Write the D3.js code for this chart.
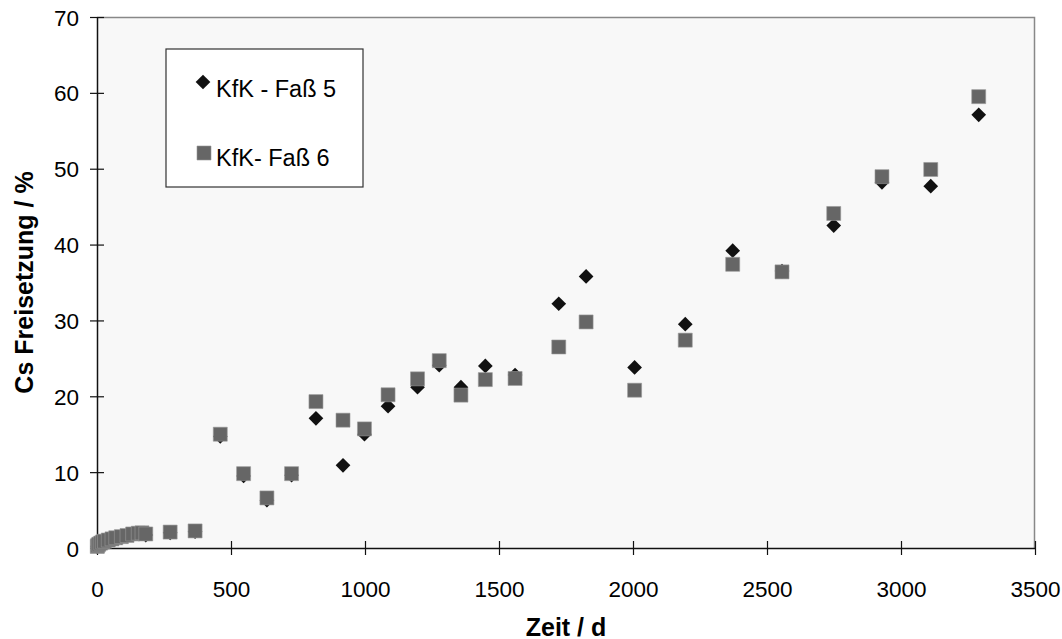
<!DOCTYPE html>
<html lang="de">
<head>
<meta charset="UTF-8">
<title>Cs Freisetzung</title>
<script src="https://d3js.org/d3.v7.min.js"></script>
<style>
  body { margin: 0; background: #fff; }
  text { font-family: Arial, "Liberation Sans", sans-serif; }
</style>
</head>
<body>
<svg width="1062" height="639" id="mainsvg"></svg>
<script>
const zeit = [1, 3, 7, 14, 21, 28, 42, 56, 70, 91, 112, 133, 154, 168, 182, 273, 366,
  460, 547, 634, 726, 817, 918, 998, 1086, 1196, 1277, 1358, 1449, 1560, 1723, 1825,
  2006, 2195, 2372, 2556, 2749, 2929, 3111, 3290];
const fass5 = [0.15, 0.3, 0.45, 0.6, 0.75, 0.85, 1.0, 1.1, 1.25, 1.4, 1.55, 1.75, 1.85, 1.9, 1.7, 2.0, 2.15,
  14.7, 9.5, 6.3, 9.6, 17.1, 10.9, 15.0, 18.7, 21.2, 24.1, 21.2, 24.0, 22.8, 32.2, 35.8,
  23.8, 29.5, 39.2, 36.5, 42.5, 48.2, 47.7, 57.1];
const fass6 = [0.2, 0.35, 0.5, 0.65, 0.8, 0.9, 1.05, 1.2, 1.35, 1.5, 1.65, 1.85, 1.95, 2.0, 1.85, 2.1, 2.25,
  15.0, 9.8, 6.6, 9.8, 19.3, 16.85, 15.7, 20.2, 22.3, 24.7, 20.15, 22.2, 22.35, 26.5, 29.8,
  20.8, 27.4, 37.4, 36.4, 44.1, 48.95, 49.9, 59.5];
const xTicks = [0, 500, 1000, 1500, 2000, 2500, 3000, 3500];
const yTicks = [0, 10, 20, 30, 40, 50, 60, 70];
const series = [
  {name: 'KfK - Faß 5', values: fass5},
  {name: 'KfK- Faß 6', values: fass6}
];

const svg = d3.select('#mainsvg');
const margin = {top: 17, right: 27, bottom: 91, left: 97};
const width = +svg.attr('width');
const height = +svg.attr('height');
const innerWidth = width - margin.left - margin.right;
const innerHeight = height - margin.top - margin.bottom;

const xScale = d3.scaleLinear().domain([0, 3500]).range([0, innerWidth]);
const yScale = d3.scaleLinear().domain([0, 70]).range([innerHeight, 0]);

const g = svg.append('g').attr('transform', `translate(${margin.left},${margin.top})`);

// Plotfläche
g.append('rect')
  .attr('width', innerWidth).attr('height', innerHeight)
  .attr('fill', '#f8f8f8');
g.append('path')
  .attr('d', `M0,0.5H${innerWidth - 0.5}V${innerHeight}`)
  .attr('fill', 'none').attr('stroke', '#888').attr('stroke-width', 1.5);

// Achsen
const xAxis = d3.axisBottom(xScale).tickValues(xTicks).tickFormat(d3.format('d')).tickSizeInner(7).tickSizeOuter(0);
const yAxis = d3.axisLeft(yScale).tickValues(yTicks).tickFormat(d3.format('d')).tickSizeInner(7).tickSizeOuter(0);

const gx = g.append('g').attr('transform', `translate(0,${innerHeight})`).call(xAxis);
const gy = g.append('g').call(yAxis);
[gx, gy].forEach(a => {
  a.select('.domain').attr('stroke', '#111').attr('stroke-width', 1.5);
  a.selectAll('.tick line').attr('stroke', '#111').attr('stroke-width', 1.2);
  a.selectAll('.tick text').attr('font-size', '22.5px').attr('fill', '#000')
    .attr('font-family', 'Arial, "Liberation Sans", sans-serif');
});
// Ticks kreuzen die Achse
gx.selectAll('.tick line').attr('y1', -7).attr('y2', 7);
gy.selectAll('.tick line').attr('x1', -7).attr('x2', 7);
gy.selectAll('.tick text').attr('x', -18).attr('dy', '0.36em');
gx.selectAll('.tick text').attr('y', 49).attr('dy', 0);

// Achsentitel
svg.append('text')
  .text('Zeit / d')
  .attr('x', margin.left + innerWidth / 2).attr('y', 636)
  .attr('text-anchor', 'middle').attr('font-size', '25px').attr('font-weight', 'bold');
svg.append('text')
  .text('Cs Freisetzung / %')
  .attr('transform', `translate(33,${margin.top + innerHeight / 2}) rotate(-90)`)
  .attr('text-anchor', 'middle').attr('font-size', '25px').attr('font-weight', 'bold');

// Symbole
const diamond = d3.symbol().type(d3.symbolSquare).size(108)();
const square = d3.symbol().type(d3.symbolSquare).size(196)();

g.append('g').selectAll('path')
  .data(zeit.map((t, i) => ({t, v: series[0].values[i]})))
  .join('path')
  .attr('d', diamond)
  .attr('transform', d => `translate(${xScale(d.t)},${yScale(d.v)}) rotate(45)`)
  .attr('fill', '#111');

g.append('g').selectAll('path')
  .data(zeit.map((t, i) => ({t, v: series[1].values[i]})))
  .join('path')
  .attr('d', square)
  .attr('transform', d => `translate(${xScale(d.t)},${yScale(d.v)})`)
  .attr('fill', '#666').attr('stroke', '#999').attr('stroke-width', 0.6);

// Legende
const lg = svg.append('g').attr('transform', 'translate(166,49)');
lg.append('rect')
  .attr('width', 197).attr('height', 138)
  .attr('fill', '#fff').attr('stroke', '#333').attr('stroke-width', 1.2);
lg.append('path').attr('d', diamond)
  .attr('transform', 'translate(37,33) rotate(45)').attr('fill', '#111');
lg.append('text').text(series[0].name)
  .attr('x', 50).attr('y', 48).attr('font-size', '23.5px');
lg.append('path').attr('d', square)
  .attr('transform', 'translate(38,104)').attr('fill', '#666').attr('stroke', '#999').attr('stroke-width', 0.6);
lg.append('text').text(series[1].name)
  .attr('x', 50).attr('y', 117).attr('font-size', '23.5px');
</script>
</body>
</html>
